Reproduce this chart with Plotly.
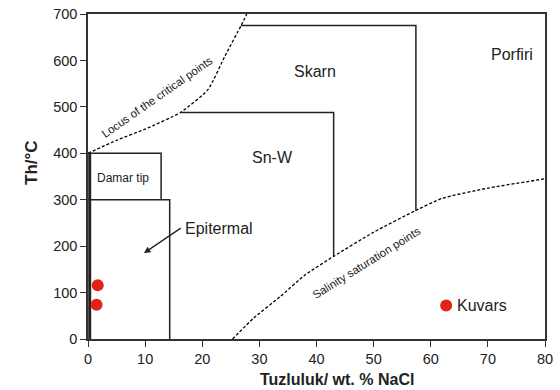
import plotly.graph_objects as go

# Curves
critical_x = [0, 5, 10, 16.2, 21, 24, 26.8, 27.8]
critical_y = [400, 428, 452, 488, 537, 610, 675, 700]
salinity_x = [25.3, 29, 33.7, 38, 43, 50, 57.4, 62, 70, 80]
salinity_y = [0, 45, 92, 138, 178, 230, 277, 303, 325, 345]

# Field boxes (polylines)
damar_x = [0, 12.8, 12.8]
damar_y = [400, 400, 300]
epi_x = [0, 14.3, 14.3]
epi_y = [300, 300, 0]
snw_x = [16.2, 43, 43]
snw_y = [488, 488, 178]
skarn_x = [26.8, 57.4, 57.4]
skarn_y = [675, 675, 277]

# Samples
kuvars_x = [1.7, 1.5, 62.7]
kuvars_y = [116, 74, 72]

fig = go.Figure()
dash = "3px,2px"
fig.add_trace(go.Scatter(x=critical_x, y=critical_y, mode="lines",
                         line=dict(color="black", width=1.3, dash=dash, shape="spline", smoothing=0.5)))
fig.add_trace(go.Scatter(x=salinity_x, y=salinity_y, mode="lines",
                         line=dict(color="black", width=1.3, dash=dash, shape="spline", smoothing=0.5)))
for bx, by in [(damar_x, damar_y), (epi_x, epi_y), (snw_x, snw_y), (skarn_x, skarn_y)]:
    fig.add_trace(go.Scatter(x=bx, y=by, mode="lines", line=dict(color="#222", width=1.5)))
fig.add_trace(go.Scatter(x=[0.3, 0.3], y=[0, 400], mode="lines", line=dict(color="#222", width=3)))
fig.add_trace(go.Scatter(x=kuvars_x, y=kuvars_y, mode="markers",
                         marker=dict(color="#e2231a", size=12, symbol="circle")))

font = "Liberation Sans, Arial, sans-serif"
texts = [
    ("Skarn", 39.8, 576, 16, "center"),
    ("Porfiri", 74.2, 612, 16, "center"),
    ("Sn-W", 32.3, 390, 16, "center"),
    ("Damar tip", 6.2, 347, 12, "center"),
    ("Epitermal", 16.6, 238, 16, "left"),
    ("Kuvars", 64.3, 72, 16, "left"),
]
for t, x, y, s, al in texts:
    fig.add_annotation(x=x, y=y, text=t, showarrow=False, xanchor=al,
                       font=dict(family=font, size=s, color="#222"))
fig.add_annotation(x=12.1, y=521, text="Locus of the critical points", showarrow=False,
                   textangle=-35, font=dict(family=font, size=11.5, color="#222"))
fig.add_annotation(x=48.7, y=164, text="Salinity saturation points", showarrow=False,
                   textangle=-32, font=dict(family=font, size=11.5, color="#222"))
# arrow
fig.add_annotation(x=9.8, y=185, ax=16.5, ay=241, axref="x", ayref="y", text="",
                   showarrow=True, arrowhead=2, arrowsize=1, arrowwidth=1.3, arrowcolor="#222")
# axis titles
fig.add_annotation(x=0.545, y=(339 - 379) / 325, xref="paper", yref="paper",
                   text="<b>Tuzluluk/ wt. % NaCl</b>", xanchor="center", yanchor="middle",
                   showarrow=False, font=dict(family=font, size=16, color="#222"))
fig.add_annotation(x=(31 - 88) / 457, y=(339 - 163) / 325, xref="paper", yref="paper",
                   text="<b>Th/°C</b>", textangle=-90, showarrow=False,
                   xanchor="center", yanchor="middle",
                   font=dict(family=font, size=17, color="#222"))

fig.update_layout(
    width=560, height=390, showlegend=False,
    margin=dict(l=88, r=15, t=14, b=51),
    plot_bgcolor="white", paper_bgcolor="white",
    font=dict(family=font, size=14, color="#222"),
)
fig.update_xaxes(range=[0, 80], tickvals=[0, 10, 20, 30, 40, 50, 60, 70, 80], automargin=False,
                 showgrid=False, zeroline=False, showline=True, linecolor="#333", linewidth=1.5,
                 mirror=True, ticks="outside", ticklen=6, tickcolor="#333", tickfont=dict(size=14.5))
fig.update_yaxes(range=[0, 700], tickvals=[0, 100, 200, 300, 400, 500, 600, 700], automargin=False,
                 showgrid=False, zeroline=False, showline=True, linecolor="#333", linewidth=1.5,
                 mirror=True, ticks="outside", ticklen=6, tickcolor="#333", tickfont=dict(size=14.5))
fig.write_html("out.html", config={"displayModeBar": False},
               post_script="document.body.style.margin='0';document.body.style.overflow='hidden';")
